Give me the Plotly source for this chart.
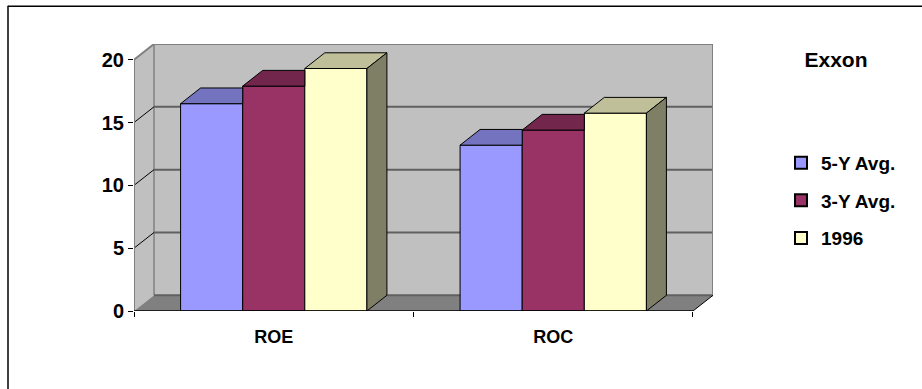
import plotly.graph_objects as go

# Return figures for Exxon, in percent
categories = ["ROE", "ROC"]
series_names = ["5-Y Avg.", "3-Y Avg.", "1996"]
avg_5y = [16.5, 13.2]
avg_3y = [17.9, 14.4]
year_1996 = [19.3, 15.75]
y_ticks = [0, 5, 10, 15, 20]

front_colors = ["#9999FF", "#993366", "#FFFFCC"]
top_colors = ["#7373BF", "#73264C", "#BFBF99"]
side_color = "#7F7F66"
WALL = "#C0C0C0"
FLOOR = "#808080"

# Oblique projection: how far the back of the box sits from the front plane
DEPTH_X = 0.0716
DEPTH_Y = 1.25
BAR_GAP = 1 / 3
CAT_POS = [i + 0.5 for i in range(len(categories))]
X_END = float(len(categories))
Y_END = float(y_ticks[-1])

series_values = [avg_5y, avg_3y, year_1996]
bar_w = (1 - BAR_GAP) / len(series_values)

fig = go.Figure()

# Front faces, with the native legend
for name, vals, color in zip(series_names, series_values, front_colors):
    fig.add_trace(go.Bar(
        x=CAT_POS, y=vals, name=name, legendgroup=name,
        marker=dict(color=color, line=dict(color="#000000", width=1)),
    ))


def poly(xs, ys, fill):
    fig.add_trace(go.Scatter(
        x=xs + xs[:1], y=ys + ys[:1], mode="lines", fill="toself",
        fillcolor=fill, line=dict(color="#000000", width=1),
        showlegend=False, hoverinfo="skip", cliponaxis=False,
    ))


# Top and side faces; a neighbouring front face hides anything right of its edge
for s, vals in enumerate(series_values):
    for c, v in zip(CAT_POS, vals):
        x0 = c - 1.5 * bar_w + s * bar_w
        x1 = x0 + bar_w
        if s < len(series_values) - 1:
            poly([x0, x1, x1, x0 + DEPTH_X],
                 [v, v, v + DEPTH_Y, v + DEPTH_Y], top_colors[s])
        else:
            poly([x0, x1, x1 + DEPTH_X, x0 + DEPTH_X],
                 [v, v, v + DEPTH_Y, v + DEPTH_Y], top_colors[s])
            poly([x1, x1 + DEPTH_X, x1 + DEPTH_X, x1],
                 [v, v + DEPTH_Y, DEPTH_Y, 0], side_color)


def edge(xs, ys, color, width):
    fig.add_trace(go.Scatter(
        x=xs, y=ys, mode="lines", line=dict(color=color, width=width),
        showlegend=False, hoverinfo="skip", cliponaxis=False,
    ))


# Box outline
edge([0, 0, DEPTH_X, X_END + DEPTH_X, X_END + DEPTH_X],
     [0, Y_END, Y_END + DEPTH_Y, Y_END + DEPTH_Y, DEPTH_Y], "#808080", 2)
edge([0, X_END], [0, 0], "#000000", 1.5)
edge([X_END, X_END + DEPTH_X], [0, DEPTH_Y], "#000000", 1)

shapes = [
    # side wall, back wall, floor
    dict(type="path", layer="below", fillcolor=WALL, line_width=0,
         path=f"M0,0 L{DEPTH_X},{DEPTH_Y} L{DEPTH_X},{Y_END + DEPTH_Y} L0,{Y_END} Z"),
    dict(type="rect", layer="below", fillcolor=WALL, line_width=0,
         x0=DEPTH_X, x1=X_END + DEPTH_X, y0=DEPTH_Y, y1=Y_END + DEPTH_Y),
    dict(type="path", layer="below", fillcolor=FLOOR, line_width=0,
         path=f"M0,0 L{X_END},0 L{X_END + DEPTH_X},{DEPTH_Y} L{DEPTH_X},{DEPTH_Y} Z"),
    dict(type="line", layer="below", line=dict(color="#808080", width=1.5),
         x0=DEPTH_X, x1=DEPTH_X, y0=DEPTH_Y, y1=Y_END + DEPTH_Y),
    dict(type="line", layer="below", line=dict(color="#606060", width=2),
         x0=DEPTH_X, x1=X_END + DEPTH_X, y0=DEPTH_Y, y1=DEPTH_Y),
]
# Gridlines run along the side wall and across the back wall
for t in y_ticks[1:-1]:
    shapes.append(dict(type="line", layer="below", line=dict(color="#000000", width=1),
                       x0=0, x1=DEPTH_X, y0=t, y1=t + DEPTH_Y))
    shapes.append(dict(type="line", layer="below", line=dict(color="#606060", width=2),
                       x0=DEPTH_X, x1=X_END + DEPTH_X, y0=t + DEPTH_Y, y1=t + DEPTH_Y))

# Top and left rules of the chart frame, placed in paper units of the plot area
L, R, T, B = 134, 713, 44.3, 311
PW, PH = R - L, B - T
def px(v):
    return (v - L) / PW
def py(v):
    return (B - v) / PH
for x0, x1, y0, y1 in [(8, 922, 6.5, 6.5), (8, 8, 6, 389)]:
    shapes.append(dict(type="line", xref="paper", yref="paper", layer="below",
                       line=dict(color="#000000", width=1.5),
                       x0=px(x0), x1=px(x1), y0=py(y0), y1=py(y1)))

fig.update_layout(
    width=922, height=389, autosize=False,
    margin=dict(l=L, r=922 - R, t=T, b=389 - B, pad=0),
    paper_bgcolor="#FFFFFF", plot_bgcolor="rgba(0,0,0,0)",
    font=dict(family="Liberation Sans", color="#000000"),
    barmode="group", bargap=BAR_GAP, bargroupgap=0,
    shapes=shapes,
    title=dict(text="<b>Exxon</b>", x=836 / 922, xanchor="center",
               y=1 - 60 / 389, yanchor="middle", font=dict(size=21)),
    showlegend=True,
    legend=dict(x=(781 - L) / PW, y=py(144), xanchor="left", yanchor="top",
                traceorder="grouped", tracegroupgap=10,
                font=dict(size=19, weight="bold"), bgcolor="rgba(0,0,0,0)",
                itemsizing="constant"),
    xaxis=dict(range=[0, X_END + DEPTH_X], showgrid=False, zeroline=False,
               showline=False, tickmode="array", tickvals=CAT_POS,
               ticktext=categories, ticks="", ticklabelstandoff=13,
               tickfont=dict(size=18, weight="bold"),
               minor=dict(tickmode="array", tickvals=[0, 1, 2], ticks="outside",
                          ticklen=5, tickcolor="#000000", tickwidth=1, showgrid=False)),
    yaxis=dict(range=[0, Y_END + DEPTH_Y], showgrid=False, zeroline=False,
               showline=False, tickmode="array", tickvals=y_ticks,
               ticks="outside", ticklen=5, tickcolor="#000000", tickwidth=1,
               tickfont=dict(size=20, weight="bold")),
)

fig.write_html("out.html", config=dict(displayModeBar=False))
